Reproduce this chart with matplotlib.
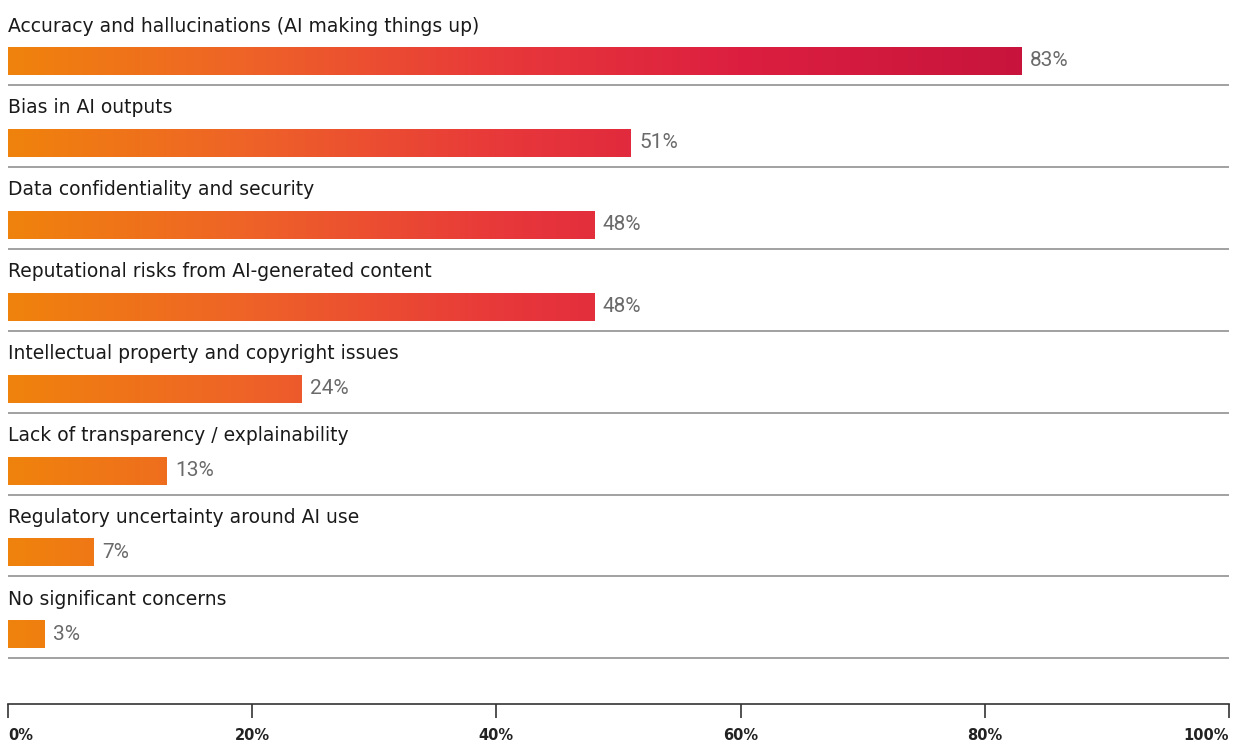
import numpy as np
import matplotlib.pyplot as plt
from matplotlib.colors import LinearSegmentedColormap

# concerns about AI use, share of respondents (%)
categories = [
    "Accuracy and hallucinations (AI making things up)",
    "Bias in AI outputs",
    "Data confidentiality and security",
    "Reputational risks from AI-generated content",
    "Intellectual property and copyright issues",
    "Lack of transparency / explainability",
    "Regulatory uncertainty around AI use",
    "No significant concerns",
]
values = [83, 51, 48, 48, 24, 13, 7, 3]
value_labels = ["83%", "51%", "48%", "48%", "24%", "13%", "7%", "3%"]
xticks = [0, 20, 40, 60, 80, 100]
xtick_labels = ["0%", "20%", "40%", "60%", "80%", "100%"]

W, H = 1237, 744
fig = plt.figure(figsize=(W / 100, H / 100), dpi=100)

left, right = 8 / W, 1229 / W
ax = fig.add_axes([left, 0, right - left, 1])
ax.set_xlim(0, 100)
# rows are ~82 px apart, first bar centred 61 px from the top
pitch = 81.9
ax.set_ylim((H - 61) / pitch, -61 / pitch)
ax.axis("off")

grad = LinearSegmentedColormap.from_list(
    "orange_red",
    [(0.0, "#F0830C"), (0.24, "#EE6228"), (0.48, "#E8393A"),
     (0.72, "#DC1F40"), (1.0, "#C8143C")])

bar_h = 28 / pitch
rows = np.arange(len(values))
bars = ax.barh(rows, values, height=bar_h, color="none", edgecolor="none")

gx = np.linspace(0, 1, 512).reshape(1, -1)
for b in bars:
    im = ax.imshow(gx, cmap=grad, aspect="auto", interpolation="bicubic",
                   extent=(0, max(values), rows[-1] + 1, -1), zorder=2)
    im.set_clip_path(b)

for i, (cat, v, lab) in enumerate(zip(categories, values, value_labels)):
    ax.text(0, i - 35 / pitch, cat, ha="left", va="center", fontsize=13.5,
            color="#1a1a1a", family="DejaVu Sans")
    ax.text(v + 0.7, i, lab, ha="left", va="center", fontsize=15,
            color="#6a6a6a", family="Roboto")
    ax.plot([0, 100], [i + 24 / pitch, i + 24 / pitch], color="#9a9a9a",
            lw=1.3, solid_capstyle="butt")

# bottom percentage axis
ax2 = fig.add_axes([left, (H - 704) / H, right - left, 0.0001])
ax2.set_xlim(0, 100)
ax2.set_yticks([])
for s in ("top", "left", "right"):
    ax2.spines[s].set_visible(False)
ax2.spines["bottom"].set_color("#333333")
ax2.spines["bottom"].set_linewidth(1.2)
ax2.set_xticks(xticks)
ax2.set_xticklabels(xtick_labels, fontsize=10.5, fontweight="bold",
                    color="#222222", family="DejaVu Sans")
ax2.tick_params(axis="x", direction="out", length=10, width=1.2,
                color="#333333", pad=7)
tl = ax2.get_xticklabels()
tl[0].set_ha("left")
tl[-1].set_ha("right")

fig.savefig("out.png", dpi=100)
